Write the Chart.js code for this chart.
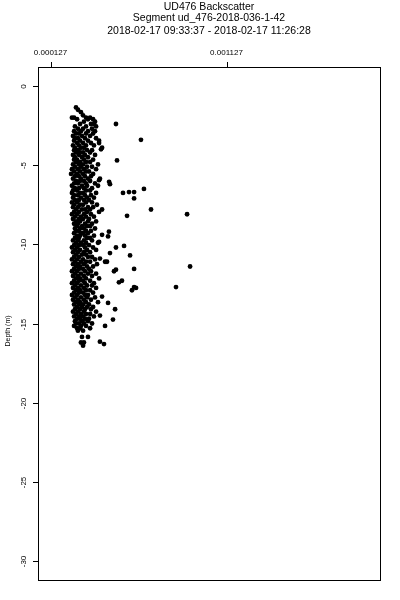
<!DOCTYPE html>
<html>
<head>
<meta charset="utf-8">
<title>UD476 Backscatter</title>
<script src="https://cdn.jsdelivr.net/npm/chart.js@4/dist/chart.umd.min.js"></script>
<style>
  html, body { margin: 0; padding: 0; background: #fff; }
  canvas { display: block; }
</style>
</head>
<body>
<canvas id="profile" width="400" height="600"></canvas>
<script>
// 标题文字
const titleLines = [
  'UD476 Backscatter',
  'Segment ud_476-2018-036-1-42',
  '2018-02-17 09:33:37 - 2018-02-17 11:26:28'
];
const yAxisTitle = 'Depth (m)';

// 坐标轴刻度
const xTicks = [0.000127, 0.001127];
const xTickLabels = ['0.000127', '0.001127'];
const yTicks = [0, -5, -10, -15, -20, -25, -30];
const xRange = [0.0000531, 0.001996];
const yRange = [-31.2, 1.2];

// 主体点群：每个深度一行
const rowDepth = [
  -1.35, -1.5, -1.65, -1.85, -2.0, -2.1, -2.25, -2.4, -2.55, -2.7,
  -2.85, -3.0, -3.15, -3.3, -3.45, -3.6, -3.75, -3.9, -4.05, -4.2,
  -4.35, -4.5, -4.65, -4.8, -4.95, -5.1, -5.25, -5.4, -5.55, -5.7,
  -5.85, -6.0, -6.15, -6.3, -6.45, -6.6, -6.75, -6.9, -7.05, -7.2,
  -7.35, -7.5, -7.65, -7.8, -7.95, -8.1, -8.25, -8.4, -8.55, -8.7,
  -8.85, -9.0, -9.15, -9.3, -9.45, -9.6, -9.75, -9.9, -10.05, -10.2,
  -10.35, -10.5, -10.65, -10.8, -10.95, -11.1, -11.25, -11.4, -11.55, -11.7,
  -11.85, -12.0, -12.15, -12.3, -12.45, -12.6, -12.75, -12.9, -13.05, -13.2,
  -13.35, -13.5, -13.65, -13.8, -13.95, -14.1, -14.25, -14.4, -14.55, -14.7,
  -14.85, -15.0, -15.15, -15.3, -15.45, -15.85, -16.2, -16.4
];
const rowBackscatter = [
  [0.000269], [0.000280], [0.000297], [0.000309],
  [0.000246, 0.000258, 0.000326, 0.000349],
  [0.000275, 0.000337, 0.000366],
  [0.000314, 0.000377],
  [0.000292, 0.000354, 0.000371],
  [0.000263, 0.000326, 0.000383],
  [0.000280, 0.000309, 0.000360],
  [0.000258, 0.000297, 0.000337, 0.000377],
  [0.000269, 0.000286, 0.000326, 0.000366],
  [0.000252, 0.000303, 0.000349],
  [0.000263, 0.000280, 0.000320, 0.000383],
  [0.000258, 0.000292, 0.000337, 0.000400],
  [0.000275, 0.000309, 0.000354],
  [0.000252, 0.000286, 0.000326, 0.000371],
  [0.000263, 0.000297, 0.000314, 0.000417],
  [0.000258, 0.000280, 0.000332, 0.000360],
  [0.000269, 0.000292, 0.000309, 0.000349],
  [0.000252, 0.000286, 0.000320, 0.000377],
  [0.000263, 0.000303, 0.000337],
  [0.000258, 0.000275, 0.000314, 0.000366],
  [0.000269, 0.000292, 0.000326, 0.000349],
  [0.000252, 0.000286, 0.000309, 0.000394],
  [0.000263, 0.000297, 0.000332, 0.000360],
  [0.000246, 0.000280, 0.000314, 0.000383],
  [0.000258, 0.000292, 0.000326, 0.000343],
  [0.000241, 0.000275, 0.000309, 0.000366],
  [0.000263, 0.000286, 0.000320, 0.000354],
  [0.000252, 0.000297, 0.000337, 0.000405],
  [0.000269, 0.000292, 0.000314, 0.000349],
  [0.000258, 0.000280, 0.000326, 0.000377],
  [0.000246, 0.000303, 0.000332, 0.000394],
  [0.000263, 0.000286, 0.000314, 0.000360],
  [0.000252, 0.000275, 0.000326, 0.000349],
  [0.000246, 0.000292, 0.000309, 0.000383],
  [0.000258, 0.000280, 0.000320, 0.000354],
  [0.000252, 0.000297, 0.000332, 0.000371],
  [0.000263, 0.000286, 0.000314, 0.000343],
  [0.000246, 0.000275, 0.000326, 0.000360],
  [0.000258, 0.000292, 0.000309, 0.000388],
  [0.000252, 0.000280, 0.000337, 0.000366],
  [0.000269, 0.000303, 0.000320, 0.000349],
  [0.000258, 0.000286, 0.000332, 0.000400],
  [0.000246, 0.000275, 0.000314, 0.000354],
  [0.000263, 0.000297, 0.000326, 0.000371],
  [0.000252, 0.000286, 0.000309, 0.000343],
  [0.000269, 0.000292, 0.000337, 0.000383],
  [0.000258, 0.000280, 0.000320, 0.000360],
  [0.000275, 0.000303, 0.000332, 0.000349],
  [0.000263, 0.000292, 0.000314, 0.000377],
  [0.000269, 0.000286, 0.000326, 0.000354],
  [0.000258, 0.000297, 0.000309, 0.000337],
  [0.000275, 0.000292, 0.000320, 0.000371],
  [0.000263, 0.000286, 0.000332, 0.000349],
  [0.000252, 0.000280, 0.000314, 0.000360],
  [0.000269, 0.000297, 0.000326, 0.000394],
  [0.000258, 0.000286, 0.000309, 0.000343],
  [0.000246, 0.000275, 0.000320, 0.000366],
  [0.000263, 0.000292, 0.000332, 0.000383],
  [0.000252, 0.000280, 0.000314, 0.000349],
  [0.000269, 0.000303, 0.000326],
  [0.000258, 0.000286, 0.000337, 0.000360],
  [0.000246, 0.000275, 0.000309, 0.000377],
  [0.000263, 0.000297, 0.000326, 0.000349],
  [0.000252, 0.000280, 0.000314, 0.000388],
  [0.000269, 0.000292, 0.000332, 0.000366],
  [0.000258, 0.000286, 0.000309, 0.000343],
  [0.000246, 0.000275, 0.000320, 0.000354],
  [0.000263, 0.000297, 0.000337, 0.000383],
  [0.000252, 0.000280, 0.000314, 0.000360],
  [0.000269, 0.000292, 0.000326, 0.000400],
  [0.000258, 0.000286, 0.000309, 0.000349],
  [0.000246, 0.000275, 0.000320, 0.000371],
  [0.000263, 0.000297, 0.000332, 0.000360],
  [0.000252, 0.000280, 0.000314, 0.000383],
  [0.000269, 0.000292, 0.000326, 0.000349],
  [0.000258, 0.000286, 0.000309, 0.000366],
  [0.000246, 0.000275, 0.000320, 0.000337],
  [0.000263, 0.000297, 0.000332, 0.000377],
  [0.000252, 0.000280, 0.000314, 0.000354],
  [0.000269, 0.000292, 0.000326, 0.000394],
  [0.000258, 0.000286, 0.000309, 0.000343],
  [0.000275, 0.000303, 0.000332, 0.000366],
  [0.000263, 0.000292, 0.000320, 0.000354],
  [0.000252, 0.000280, 0.000314, 0.000383],
  [0.000269, 0.000297, 0.000326, 0.000349],
  [0.000258, 0.000286, 0.000309, 0.000371],
  [0.000275, 0.000292, 0.000320, 0.000343],
  [0.000263, 0.000303, 0.000337],
  [0.000269, 0.000286, 0.000314, 0.000360],
  [0.000258, 0.000297, 0.000326],
  [0.000275, 0.000292, 0.000349],
  [0.000280, 0.000309],
  [0.000303, 0.000337],
  [0.000297, 0.000314],
  [0.000309]
];

// 离散点
const strayDepth = [
  -2.4, -3.4, -4.0, -4.7, -6.2, -6.75, -6.7, -6.7, -6.5, -7.1,
  -7.8, -8.1, -8.2, -9.2, -9.5, -10.2, -10.1, -10.55, -10.7, -11.1,
  -11.4, -11.55, -11.6, -12.4, -12.3, -12.7, -12.75, -12.9, -12.7, -3.6,
  -5.95, -6.05, -7.8, -9.85, -9.4, -10.9, -11.1, -11.7, -13.3, -13.7,
  -14.1, -14.75, -14.5, -15.15, -16.15, -16.3
];
const strayBackscatter = [
  0.000496, 0.000638, 0.000411, 0.000502, 0.000462, 0.000536, 0.000570, 0.000599, 0.000655, 0.000599,
  0.000695, 0.000900, 0.000559, 0.000456, 0.000451, 0.000496, 0.000542, 0.000462, 0.000576, 0.000445,
  0.000917, 0.000599, 0.000496, 0.000513, 0.000530, 0.000599, 0.000610, 0.000587, 0.000837, 0.000400,
  0.000400, 0.000457, 0.000417, 0.000400, 0.000417, 0.000405, 0.000434, 0.000485, 0.000417, 0.000451,
  0.000491, 0.000479, 0.000405, 0.000434, 0.000405, 0.000428
];

const FONT = '"Liberation Sans", Arial, Helvetica, sans-serif';

// 组装散点数据
function buildPoints() {
  const points = [];
  rowDepth.forEach((d, i) => {
    rowBackscatter[i].forEach(v => points.push({ x: v, y: d }));
  });
  strayDepth.forEach((d, i) => points.push({ x: strayBackscatter[i], y: d }));
  return points;
}

// 自绘边框、刻度和标题（R 风格）
const frameAxes = {
  id: 'frameAxes',
  afterDraw(chart) {
    const { ctx, chartArea: a, scales } = chart;
    ctx.save();
    ctx.strokeStyle = '#000';
    ctx.fillStyle = '#000';
    ctx.lineWidth = 1;
    ctx.strokeRect(Math.round(a.left) + 0.5, Math.round(a.top) + 0.5,
      Math.round(a.right - a.left), Math.round(a.bottom - a.top));

    // 顶部 x 轴
    ctx.font = '8px ' + FONT;
    ctx.textAlign = 'center';
    ctx.textBaseline = 'middle';
    xTicks.forEach((t, i) => {
      const px = Math.round(scales.x.getPixelForValue(t)) + 0.5;
      ctx.beginPath();
      ctx.moveTo(px, a.top);
      ctx.lineTo(px, a.top - 5);
      ctx.stroke();
      ctx.fillText(xTickLabels[i], px - 1, a.top - 14);
    });

    // 左侧 y 轴
    yTicks.forEach(t => {
      const py = Math.round(scales.y.getPixelForValue(t)) + 0.5;
      ctx.beginPath();
      ctx.moveTo(a.left, py);
      ctx.lineTo(a.left - 5, py);
      ctx.stroke();
      ctx.save();
      ctx.translate(a.left - 14, py);
      ctx.rotate(-Math.PI / 2);
      ctx.fillText(String(t), 0, 0);
      ctx.restore();
    });

    ctx.save();
    ctx.font = '7px ' + FONT;
    ctx.translate(8, 331);
    ctx.rotate(-Math.PI / 2);
    ctx.fillText(yAxisTitle, 0, 0);
    ctx.restore();

    // 标题
    ctx.font = '10.5px ' + FONT;
    ctx.textBaseline = 'alphabetic';
    const cx = (a.left + a.right) / 2;
    [10, 21, 34].forEach((y, i) => ctx.fillText(titleLines[i], cx, y));
    ctx.restore();
  }
};

document.addEventListener('DOMContentLoaded', () => {
  const ctx = document.getElementById('profile').getContext('2d');
  new Chart(ctx, {
    type: 'scatter',
    data: {
      datasets: [{
        label: 'Backscatter',
        data: buildPoints(),
        pointRadius: 2.4,
        pointBackgroundColor: '#000',
        pointBorderWidth: 0,
        pointHoverRadius: 2.4
      }]
    },
    options: {
      responsive: false,
      animation: false,
      devicePixelRatio: 1,
      layout: { padding: { left: 38, right: 20, top: 67, bottom: 20 } },
      plugins: { legend: { display: false }, tooltip: { enabled: false } },
      scales: {
        x: { type: 'linear', min: xRange[0], max: xRange[1], display: false },
        y: { type: 'linear', min: yRange[0], max: yRange[1], display: false }
      }
    },
    plugins: [frameAxes]
  });
});
</script>
</body>
</html>
